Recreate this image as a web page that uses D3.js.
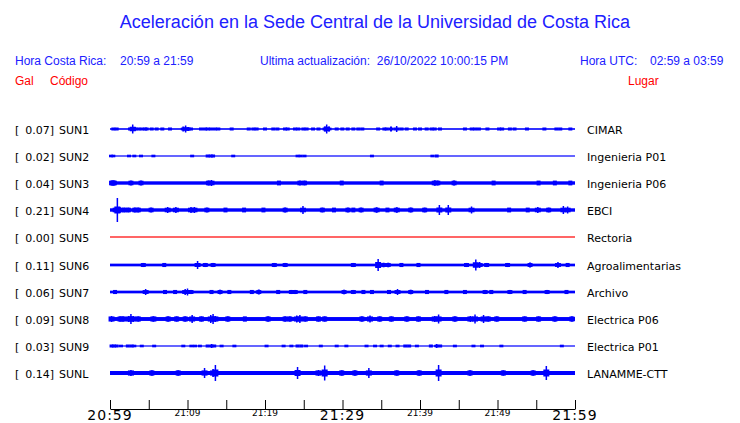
<!DOCTYPE html>
<html><head><meta charset="utf-8">
<script src="https://cdn.jsdelivr.net/npm/d3@7"></script>
<style>body{margin:0;background:#fff}svg{display:block}</style>
</head><body>
<svg id="c" width="740" height="423"></svg>
<script>
// ---- data ----
const title = "Aceleración en la Sede Central de la Universidad de Costa Rica";
const localRange = "20:59 a 21:59";
const utcRange = "02:59 a 03:59";
const updated = "26/10/2022 10:00:15 PM";
const codes = ["SUN1","SUN2","SUN3","SUN4","SUN5","SUN6","SUN7","SUN8","SUN9","SUNL"];
const peaks = ["0.07","0.02","0.04","0.21","0.00","0.11","0.06","0.09","0.03","0.14"];
const places = ["CIMAR","Ingenieria P01","Ingenieria P06","EBCI","Rectoria","Agroalimentarias","Archivo","Electrica P06","Electrica P01","LANAMME-CTT"];
// background noise level of each trace (relative amplitude)
const baseLevel = [0.8,0.6,1.7,1.7,0.6,1.35,1.35,1.95,0.6,2.0];
// bursts: [minute after 20:59, relative amplitude]
const bursts1 = [[0.43,1.3],[0.86,1.3],[2.58,1],[2.93,4.5],[3.23,2],[3.66,1.3],[4.09,1.3],[4.52,1.3],[4.73,1.3],[5.38,1],[6.02,1.3],[6.75,1],[7.74,1.3],[9.46,2.5],[9.76,3.5],[10.1,2],[10.45,1.3],[11.74,0.8],[12.26,1.2],[12.6,1.2],[13.03,1.2],[13.55,1.2],[13.98,1.2],[15.7,1.2],[17.9,1],[18.5,1],[18.92,1.5],[20,1],[21.07,1],[21.6,1],[22.58,1],[22.93,1],[23.87,1],[24.3,1],[24.95,1.2],[25.37,1.2],[26.2,0.8],[26.9,0.8],[27.74,2.5],[27.96,4.5],[28.26,2.5],[29.25,1.3],[29.98,1.2],[30.67,1.2],[31.4,1.5],[32.04,1.5],[32.56,1.5],[34.6,0.8],[35.4,1.3],[35.7,1.3],[36.26,2.5],[36.99,3],[37.63,1.5],[38.28,1.5],[39.35,1.2],[40,1.2],[40.86,1],[41.5,1.5],[41.9,1.5],[42.58,1.3],[45.8,1.3],[46.67,1],[47.1,1],[47.6,1.3],[48.7,1.3],[50.2,1.3],[50.6,1.3],[51.6,1.3],[52.2,1.3],[53.8,1.5],[56.05,1.3],[57.6,1.5],[58.1,1.5],[59.4,1.5]];
const bursts2 = [[0.13,1.3],[0.43,1.3],[2.45,1.2],[3.14,1.2],[4,0.8],[5.6,0.8],[10.6,0.8],[12.6,1.5],[13,1.5],[13.3,1.5],[15.9,0.8],[24.2,1.2],[24.6,1.2],[25.1,1.2],[33.8,0.8],[41.6,1.3],[42.15,1.5]];
const bursts3 = [[0.2,2.5],[0.4,2.5],[0.56,2.5],[2.7,2],[4,2],[12.7,2.5],[13.1,3],[21.8,1.8],[24.5,2.3],[25.1,2.3],[29.9,1.8],[35.05,1.8],[41.9,2.8],[42.3,2.3],[44.4,2.5],[49.5,1.8],[55.3,1.8],[57.4,1.8],[59.4,1.8]];
const bursts4 = [[0.73,3],[0.95,12],[1.29,3],[1.85,2],[2.37,2],[3.2,2.5],[3.65,2.5],[5.3,2],[7.44,3],[8.5,3],[10.45,3],[10.9,3],[12.5,2.3],[14.9,1.8],[17.3,1.8],[19.8,1.5],[22.6,2.5],[24.9,4],[27.4,2],[28.9,1.8],[30.7,2],[31.4,1.8],[32.4,2],[34.4,2.8],[35.8,1.8],[37,2.8],[38.8,2.5],[40.6,2],[42.5,5],[43.65,5],[46.65,3.5],[51.5,1.8],[53.9,1.8],[55.2,3],[56.6,2],[58.5,4],[59.05,3.5]];
const bursts5 = [];
const bursts6 = [[4.3,2],[7,1.8],[11.3,4],[12.3,2],[13.3,2],[21.2,2],[22.6,2],[31.4,2],[34.6,6],[35.3,2.3],[35.9,2.3],[37.6,1.8],[39.8,1.8],[46,2],[47.2,5.5],[47.7,3],[48.6,2],[51.3,2],[54.2,2.5],[57.8,3],[59.05,1.8]];
const bursts7 = [[0.65,1.8],[4.6,3],[7.1,1.5],[8.4,1.5],[9.7,3],[10,3.5],[10.45,2],[13.1,1.8],[14.2,2.3],[15.4,1.8],[18.3,1.8],[19.2,2.5],[21.7,1.8],[23.4,2],[23.9,2],[25.2,1.5],[30.2,2.3],[31.4,2],[32.7,1.8],[33.8,1.5],[36,1.8],[37.1,3],[38.8,2.3],[40.9,1.5],[43.4,1.8],[45.8,1.5],[48.4,2],[49.2,1.8],[51.6,2],[53.5,1.5],[56.4,2],[58.9,1.8]];
const bursts8 = [[0.2,3],[1.3,2.5],[1.7,2.5],[2.4,3],[2.7,5],[3,3],[3.65,2.3],[5.6,2.8],[7.5,2],[8.6,2],[9.7,2],[10.6,4],[11.8,2.5],[13,4],[13.3,5],[13.6,3],[15.2,2.5],[17.4,1.8],[20.4,2.3],[22.6,2.5],[23.2,2.5],[24.1,3.5],[24.5,4],[25.2,2.5],[26.9,2.5],[27.7,2.5],[32.5,2.3],[33.55,3.5],[34.8,2.3],[36.3,2.5],[38.3,2.5],[39.8,2.3],[41.9,3],[42.4,4.5],[44.5,2],[46.5,3],[47.1,4.5],[48.2,4],[48.8,2.5],[49.9,2],[53.5,2],[55.3,2.3],[57.4,2.3],[59.6,2.3]];
const bursts9 = [[0.2,1.5],[0.5,1.5],[0.86,1.5],[1.42,1.3],[2.3,1.5],[2.8,1.5],[3.14,1.2],[4.1,0.8],[5.7,0.8],[9.46,1.2],[10.5,1.2],[10.97,1.2],[11.6,1],[12.6,1.5],[13.1,2],[13.45,1.5],[14.4,1],[16.05,1],[20.2,0.8],[22.4,1],[23.4,1],[24.2,1.5],[24.7,1.5],[25.3,1.2],[27.2,1.2],[29.25,1],[30.5,1],[33.1,1.2],[34.2,1.2],[35.05,1.2],[36.1,1],[37.1,1.2],[38.1,1.5],[38.6,1.5],[39.6,1],[41.4,1.5],[42.15,2],[42.6,1.5],[44.5,0.8],[46.9,1.2],[48,1.2],[50.5,0.8],[58.3,0.8]];
const bursts10 = [[2.7,3],[5.4,2.5],[8.8,2.5],[12.2,5],[13.3,4],[13.6,8],[24.2,6],[26.9,3],[27.7,7.5],[29.9,2.5],[31.6,2.5],[33.4,5],[37,2.5],[39.9,2.3],[42.4,8],[46.45,2.5],[50.75,2.3],[54.6,2.5],[56.3,7]];
const allBursts = [bursts1,bursts2,bursts3,bursts4,bursts5,bursts6,bursts7,bursts8,bursts9,bursts10];
const tickMinutes = [0,5,10,15,20,25,30,35,40,45,50,55,60];
const majorTicks = [0,30,60];
const labelTicks = [0,10,20,30,40,50,60];

// ---- drawing ----
const svg = d3.select("#c");
const BLUE = "#0000ff", TXT = "#2020ff", RED = "#ff0000";
const t0 = new Date(2022,9,26,20,59);
const t1 = new Date(2022,9,26,21,59);
const x = d3.scaleTime().domain([t0,t1]).range([110,575]);
const xm = m => x(new Date(t0.getTime()+m*60000));
const yp = d3.scalePoint().domain(codes).range([129,373]);
const y = c => Math.round(yp(c));
const amp = d3.scaleLinear().domain([0,12]).range([0,12]);

svg.append("text").attr("x",375).attr("y",28).attr("text-anchor","middle")
  .attr("font-family","Liberation Sans, Arial, sans-serif").attr("font-size",18).attr("fill",TXT).text(title);

const hdr = svg.append("g").attr("font-family","Liberation Sans, Arial, sans-serif").attr("font-size",12).attr("fill",TXT);
hdr.append("text").attr("x",15).attr("y",65).text("Hora Costa Rica:");
hdr.append("text").attr("x",120).attr("y",65).text(localRange);
hdr.append("text").attr("x",260).attr("y",65).attr("xml:space","preserve").text("Ultima actualización:  "+updated);
hdr.append("text").attr("x",580).attr("y",65).text("Hora UTC:");
hdr.append("text").attr("x",650).attr("y",65).text(utcRange);
const hdr2 = svg.append("g").attr("font-family","Liberation Sans, Arial, sans-serif").attr("font-size",12).attr("fill",RED);
hdr2.append("text").attr("x",15).attr("y",85).text("Gal");
hdr2.append("text").attr("x",50).attr("y",85).text("Código");
hdr2.append("text").attr("x",628).attr("y",85).text("Lugar");

const lab = svg.append("g").attr("font-family","DejaVu Sans, sans-serif").attr("font-size",11).attr("fill","#000");
codes.forEach((c,i)=>{
  const yy = y(c)+5;
  lab.append("text").attr("x",15).attr("y",yy).text("[");
  lab.append("text").attr("x",54).attr("y",yy).attr("text-anchor","end").text(peaks[i]+"]");
  lab.append("text").attr("x",59).attr("y",yy).text(c);
  lab.append("text").attr("x",587).attr("y",yy).text(places[i]);
});

codes.forEach((c,i)=>{
  const cy = y(c);
  const col = i===4 ? RED : BLUE;
  const g = svg.append("g").attr("fill",col);
  const b = Math.max(amp(baseLevel[i]),0.6);
  g.append("rect").attr("x",xm(0)).attr("width",xm(60)-xm(0)).attr("y",cy-b).attr("height",2*b);
  allBursts[i].forEach(([m,a])=>{
    const cx = xm(m), h = Math.max(amp(a), b+0.7);
    const w1 = a < 2 ? 4 : (a < 3 ? 2 : 1.5);
    g.append("rect").attr("x",cx-w1/2).attr("width",w1).attr("y",cy-h).attr("height",2*h);
    if (a >= 2) {
      const s = Math.max(b+0.6, Math.min(h*0.5, 3.5)), w = a>2.5 ? 6 : 5;
      g.append("rect").attr("x",cx-w/2).attr("width",w).attr("y",cy-s).attr("height",2*s);
    }
  });
});

// axis
const ax = svg.append("g").attr("transform","translate(0,409)");
ax.call(d3.axisTop(x).tickValues(tickMinutes.map(m=>new Date(t0.getTime()+m*60000))).tickSize(9).tickSizeOuter(0).tickFormat(""));
ax.select(".domain").attr("stroke","#000").attr("d","M110.5,0.5H575.5");
ax.selectAll(".tick line").attr("stroke","#000");
const fmt = d3.timeFormat("%H:%M");
labelTicks.forEach(m=>{
  const big = majorTicks.includes(m);
  svg.append("text").attr("x",xm(m)).attr("y",big?420:416).attr("text-anchor","middle")
    .attr("font-family","DejaVu Sans, sans-serif").attr("font-size",big?14:9)
    .attr("letter-spacing",big?1:0).attr("fill","#000")
    .text(fmt(new Date(t0.getTime()+m*60000)));
});
</script>
</body></html>
